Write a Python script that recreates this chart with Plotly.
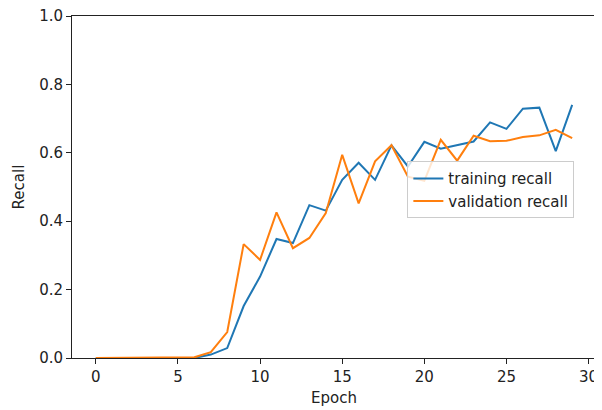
import plotly.graph_objects as go

epochs = list(range(30))
training_recall = [0.0, 0.0, 0.0, 0.0, 0.0, 0.0, 0.0, 0.01, 0.029, 0.152, 0.238, 0.348, 0.336, 0.447, 0.431,
                   0.521, 0.571, 0.521, 0.622, 0.56, 0.632, 0.612, 0.622, 0.633, 0.689,
                   0.67, 0.729, 0.732, 0.605, 0.74]
validation_recall = [0.0, 0.0, 0.0, 0.0, 0.0, 0.0, 0.002, 0.017, 0.076, 0.333, 0.287, 0.426, 0.321, 0.351, 0.424,
                     0.594, 0.452, 0.575, 0.622, 0.53, 0.518, 0.638, 0.577, 0.65, 0.634,
                     0.635, 0.646, 0.651, 0.667, 0.643]
x_ticks = [0, 5, 10, 15, 20, 25, 30]
y_ticks = [0.0, 0.2, 0.4, 0.6, 0.8, 1.0]

FONT = "DejaVu Sans"
FS = 15
INK = "#222"

fig = go.Figure()
fig.add_trace(go.Scatter(x=epochs, y=training_recall, mode="lines", name="training recall",
                         line=dict(color="#1f77b4", width=2)))
fig.add_trace(go.Scatter(x=epochs, y=validation_recall, mode="lines", name="validation recall",
                         line=dict(color="#ff7f0e", width=2)))

axis_common = dict(showline=True, linecolor=INK, linewidth=1, mirror=True, ticks="outside",
                   ticklen=5, tickwidth=1, tickcolor=INK, showgrid=False, zeroline=False,
                   ticklabeloverflow="allow",
                   tickfont=dict(family=FONT, size=FS, color=INK))

fig.update_xaxes(range=[-1.45, 30.45], tickvals=x_ticks, ticktext=[str(v) for v in x_ticks],
                 title=dict(text="Epoch", font=dict(family=FONT, size=FS, color=INK), standoff=7),
                 **axis_common)
fig.update_yaxes(range=[0, 1], tickvals=y_ticks, ticktext=[f"{v:.1f}" for v in y_ticks],
                 title=dict(text="Recall", font=dict(family=FONT, size=FS, color=INK), standoff=10),
                 **axis_common)

# page body has an 8px margin: compensate so the plot area lands where the reference has it
fig.update_layout(
    width=594, height=402,
    margin=dict(l=64, r=6, t=8, b=52, autoexpand=False),
    plot_bgcolor="white", paper_bgcolor="white",
    font=dict(family=FONT, size=FS, color=INK),
    legend=dict(x=0.64, y=0.575, xanchor="left", yanchor="top",
                bgcolor="rgba(255,255,255,0.8)", bordercolor="#ccc", borderwidth=1,
                font=dict(family=FONT, size=FS, color=INK)),
    showlegend=True,
)

fig.write_html("out.html")
